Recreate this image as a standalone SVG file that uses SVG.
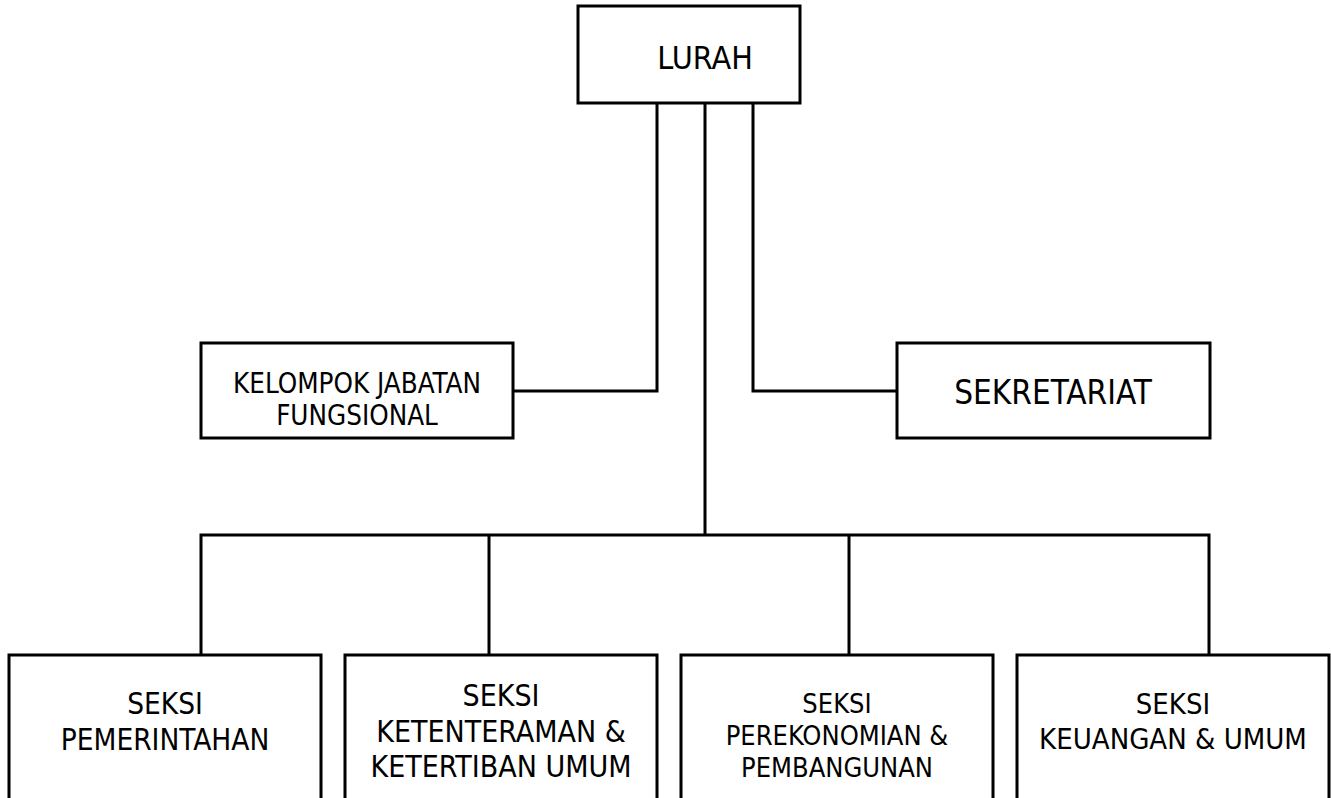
<svg xmlns="http://www.w3.org/2000/svg" width="1331" height="798" viewBox="0 0 1331 798">
<style>
.box{fill:#fff;stroke:#000;stroke-width:3}
.ln{fill:none;stroke:#000;stroke-width:3}
text{font-family:"DejaVu Sans Condensed","DejaVu Sans",sans-serif;font-stretch:condensed;fill:#000;text-anchor:middle}
</style>
<rect width="1331" height="798" fill="#fff"/>
<g id="connectors">
<path class="ln" d="M657,103 V391 H513"/>
<path class="ln" d="M753,103 V391 H897"/>
<path class="ln" d="M705,103 V535"/>
<path class="ln" d="M201,655 V535 H1209 V655"/>
<path class="ln" d="M489,535 V655"/>
<path class="ln" d="M849,535 V655"/>
</g>
<g id="lurah">
<rect class="box" x="578" y="6" width="222" height="97"/>
<text x="705" y="69" font-size="32">LURAH</text>
</g>
<g id="kjf">
<rect class="box" x="201" y="343" width="312" height="95"/>
<text x="357" y="393" font-size="27.5">KELOMPOK JABATAN</text>
<text x="357" y="425" font-size="27.5">FUNGSIONAL</text>
</g>
<g id="sekretariat">
<rect class="box" x="897" y="343" width="313" height="95"/>
<text x="1053" y="404" font-size="33">SEKRETARIAT</text>
</g>
<g id="pemerintahan">
<rect class="box" x="9" y="655" width="312" height="160"/>
<text x="165" y="714" font-size="29.5">SEKSI</text>
<text x="165" y="750" font-size="29.5">PEMERINTAHAN</text>
</g>
<g id="ketenteraman">
<rect class="box" x="345" y="655" width="312" height="160"/>
<text x="501" y="706" font-size="30">SEKSI</text>
<text x="501" y="742" font-size="30">KETENTERAMAN &amp;</text>
<text x="501" y="777" font-size="30">KETERTIBAN UMUM</text>
</g>
<g id="perekonomian">
<rect class="box" x="681" y="655" width="312" height="160"/>
<text x="837" y="713" font-size="27">SEKSI</text>
<text x="837" y="745" font-size="27">PEREKONOMIAN &amp;</text>
<text x="837" y="777" font-size="27">PEMBANGUNAN</text>
</g>
<g id="keuangan">
<rect class="box" x="1017" y="655" width="312" height="160"/>
<text x="1173" y="714" font-size="29">SEKSI</text>
<text x="1173" y="749" font-size="29">KEUANGAN &amp; UMUM</text>
</g>
</svg>
